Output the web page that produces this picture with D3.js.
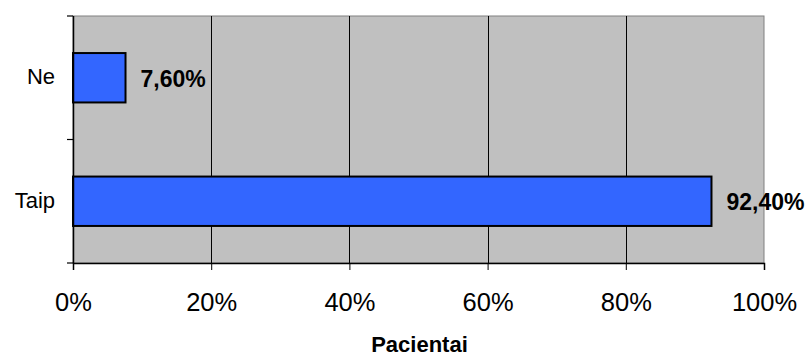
<!DOCTYPE html>
<html>
<head>
<meta charset="utf-8">
<script src="https://cdn.jsdelivr.net/npm/d3@7"></script>
<style>
  body { margin: 0; background: #fff; }
  svg { display: block; font-family: "Liberation Sans", Arial, sans-serif; }
</style>
</head>
<body>
<svg id="chart" width="805" height="356"></svg>
<script>
// Share of patients by answer
const categories = ["Ne", "Taip"];
const values = [7.6, 92.4];
const valueLabels = ["7,60%", "92,40%"];
const xTicks = [0, 20, 40, 60, 80, 100];
const xTickLabels = ["0%", "20%", "40%", "60%", "80%", "100%"];
const xTitle = "Pacientai";

const svg = d3.select("#chart");
const margin = { left: 73, right: 41, top: 16, bottom: 93 };
const W = 805, H = 356;
const iw = W - margin.left - margin.right;
const ih = H - margin.top - margin.bottom;

const x = d3.scaleLinear().domain([0, 100]).range([0, iw]);
const y = d3.scaleBand().domain(categories).range([0, ih]).paddingInner(0.6).paddingOuter(0.3);
const yEdges = d3.scaleLinear().domain([0, categories.length]).range([0, ih]);

const g = svg.append("g").attr("transform", `translate(${margin.left},${margin.top})`);

// plot area
g.append("rect").attr("width", iw).attr("height", ih)
  .attr("fill", "#c0c0c0").attr("stroke", "#808080").attr("stroke-width", 1);

// vertical gridlines
g.selectAll(".grid").data(xTicks.slice(1, -1)).join("line")
  .attr("x1", d => Math.round(x(d)) + 0.5).attr("x2", d => Math.round(x(d)) + 0.5)
  .attr("y1", 0).attr("y2", ih)
  .attr("stroke", "#000").attr("stroke-width", 1);

// bars
g.selectAll(".bar").data(categories).join("rect")
  .attr("x", 0).attr("y", d => y(d))
  .attr("width", (d, i) => x(values[i])).attr("height", y.bandwidth())
  .attr("fill", "#3366ff").attr("stroke", "#000").attr("stroke-width", 2);

// value labels
g.selectAll(".vlab").data(categories).join("text")
  .attr("x", (d, i) => x(values[i]) + 15)
  .attr("y", d => y(d) + y.bandwidth() / 2)
  .attr("dy", "0.4em")
  .attr("font-size", 23).attr("font-weight", "bold").attr("fill", "#000")
  .text((d, i) => valueLabels[i]);

// left axis with category boundary ticks
g.append("line").attr("x1", 0.5).attr("x2", 0.5).attr("y1", 0).attr("y2", ih)
  .attr("stroke", "#000").attr("stroke-width", 1.5);
g.selectAll(".ytick").data(d3.range(categories.length + 1)).join("line")
  .attr("x1", -6).attr("x2", 0)
  .attr("y1", d => yEdges(d)).attr("y2", d => yEdges(d))
  .attr("stroke", "#000").attr("stroke-width", 1.2);
g.selectAll(".ylab").data(categories).join("text")
  .attr("x", -18).attr("y", d => y(d) + y.bandwidth() / 2)
  .attr("dy", "0.3em").attr("text-anchor", "end")
  .attr("font-size", 22).attr("fill", "#000")
  .text(d => d);

// bottom axis
const xAxis = d3.axisBottom(x).tickValues(xTicks).tickSize(7)
  .tickFormat((d, i) => xTickLabels[i]);
const ax = g.append("g").attr("transform", `translate(0,${ih})`).call(xAxis);
ax.select(".domain").attr("stroke", "#000").attr("stroke-width", 1.5);
ax.selectAll(".tick line").attr("stroke", "#000").attr("stroke-width", 1);
ax.selectAll(".tick text")
  .attr("y", 48).attr("dy", 0).attr("font-size", 25.5)
  .attr("font-family", "Liberation Sans, Arial, sans-serif")
  .attr("fill", "#000");

// axis title
g.append("text").attr("x", iw / 2 + 1).attr("y", ih + 89)
  .attr("text-anchor", "middle").attr("font-size", 22).attr("font-weight", "bold")
  .text(xTitle);
</script>
</body>
</html>
